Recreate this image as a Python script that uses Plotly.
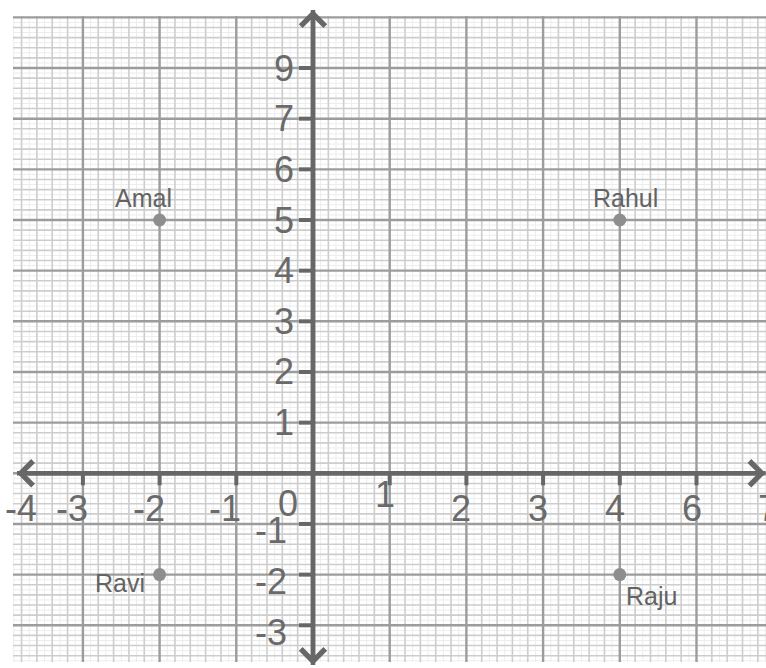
import numpy as np
import plotly.graph_objects as go

# Friends marked on the graph paper and their coordinates
names = ["Amal", "Rahul", "Ravi", "Raju"]
x_vals = [-2, 4, -2, 4]
y_vals = [5, 5, -2, -2]

# Tick positions along each axis and the labels printed beside them
x_ticks = [-4, -3, -2, -1, 0, 1, 2, 3, 4, 5, 6]
x_tick_text = ["-4", "-3", "-2", "-1", "0", "1", "2", "3", "4", "6", "7"]
y_ticks = [-3, -2, -1, 1, 2, 3, 4, 5, 6, 7, 8]
y_tick_text = ["-3", "-2", "-1", "1", "2", "3", "4", "5", "6", "7", "9"]

# ---- page geometry (pixels) ----
W, H = 766, 668
ORIGIN = (313.0, 473.3)          # pixel position of (0, 0)
UNIT = (76.7, 50.66)             # pixels per unit along x and y
PAPER_INSET = dict(l=13, t=16, r=0, b=6)


def px_to_x(px):
    return (px - ORIGIN[0]) / UNIT[0]


def px_to_y(py):
    return (ORIGIN[1] - py) / UNIT[1]


x_range = [px_to_x(0), px_to_x(W)]
y_range = [px_to_y(H), px_to_y(0)]
paper_x = (px_to_x(PAPER_INSET["l"]), px_to_x(W - PAPER_INSET["r"]))
paper_y = (px_to_y(H - PAPER_INSET["b"]), px_to_y(PAPER_INSET["t"]))

# axis extents (arrow tips)
axis_x = (px_to_x(17), px_to_x(765.5))
axis_y = (px_to_y(665), px_to_y(10))

# ---- styles ----
AXIS_COLOR = "#676767"
AXIS_WIDTH = 4.5
TEXT_COLOR = "#6a6a6a"
FONT = "Liberation Sans, Arial, sans-serif"
GRID_STYLE = {
    "faint": dict(color="#ededed", width=1),
    "minor": dict(color="#cdcdcd", width=1.6),
    "major": dict(color="#9c9c9c", width=2.4),
}
X_LABEL_SHIFT = (7, -35)         # right edge offset, vertical offset
Y_LABEL_SHIFT = (-17, 0)
LABEL_NUDGE = {"-4": (26, 0), "0": (-20, 5), "1": (0, 14)}
Y_NEG_NUDGE = (-7, -7)
POINT_LABEL_SHIFT = {"Amal": (-16, 22), "Rahul": (6, 22), "Ravi": (-40, -8), "Raju": (32, -21)}


def grid_kind(k):
    if k % 10 == 0:
        return "major"
    if k % 2 == 0:
        return "minor"
    return "faint"


def grid_lines(kind):
    xs, ys = [], []
    for k in range(int(np.ceil(paper_x[0] * 10)), int(np.floor(paper_x[1] * 10)) + 1):
        if grid_kind(k) == kind:
            xs += [k / 10, k / 10, None]
            ys += [paper_y[0], paper_y[1], None]
    for k in range(int(np.ceil(paper_y[0] * 10)), int(np.floor(paper_y[1] * 10)) + 1):
        if grid_kind(k) == kind:
            xs += [paper_x[0], paper_x[1], None]
            ys += [k / 10, k / 10, None]
    return xs, ys


fig = go.Figure()

# graph paper
for kind in ["faint", "minor", "major"]:
    gx, gy = grid_lines(kind)
    fig.add_trace(go.Scatter(x=gx, y=gy, mode="lines", line=GRID_STYLE[kind],
                             hoverinfo="skip", showlegend=False))

# axes
fig.add_trace(go.Scatter(
    x=[axis_x[0], axis_x[1], None, 0, 0],
    y=[0, 0, None, axis_y[0], axis_y[1]],
    mode="lines", line=dict(color=AXIS_COLOR, width=AXIS_WIDTH),
    hoverinfo="skip", showlegend=False))

# tick stubs
stub_x, stub_y = [], []
for t in x_ticks:
    if t != 0 and paper_x[0] < t < paper_x[1]:
        stub_x += [t, t, None]
        stub_y += [0, px_to_y(ORIGIN[1] + 12), None]
for t in y_ticks:
    if paper_y[0] < t < paper_y[1]:
        stub_x += [0, px_to_x(ORIGIN[0] - 14), None]
        stub_y += [t, t, None]
fig.add_trace(go.Scatter(x=stub_x, y=stub_y, mode="lines",
                         line=dict(color=AXIS_COLOR, width=4),
                         hoverinfo="skip", showlegend=False))

# plotted points
fig.add_trace(go.Scatter(x=x_vals, y=y_vals, mode="markers",
                         marker=dict(size=13, color="#8e8e8e"),
                         text=names, hoverinfo="text", showlegend=False))

annotations = []

# arrow heads at both ends of each axis
for tx, ty in [(axis_x[0], 0), (axis_x[1], 0), (0, axis_y[0]), (0, axis_y[1])]:
    annotations.append(dict(
        x=tx, y=ty, xref="x", yref="y", ax=0, ay=0, axref="x", ayref="y",
        text="", showarrow=True, arrowhead=4, arrowsize=1.05,
        arrowwidth=AXIS_WIDTH, arrowcolor=AXIS_COLOR))

# x tick labels
for t, label in zip(x_ticks, x_tick_text):
    nx, ny = LABEL_NUDGE.get(label, (0, 0))
    annotations.append(dict(
        x=(t - x_range[0]) / (x_range[1] - x_range[0]), y=0, xref="paper", yref="y",
        text=label, showarrow=False, xanchor="right", yanchor="middle",
        xshift=X_LABEL_SHIFT[0] + nx, yshift=X_LABEL_SHIFT[1] + ny,
        font=dict(family=FONT, size=36, color=TEXT_COLOR)))

# y tick labels
for t, label in zip(y_ticks, y_tick_text):
    nx, ny = Y_NEG_NUDGE if t < 0 else (0, 0)
    annotations.append(dict(
        x=0, y=t, xref="x", yref="y",
        text=label, showarrow=False, xanchor="right", yanchor="middle",
        xshift=Y_LABEL_SHIFT[0] + nx, yshift=Y_LABEL_SHIFT[1] + ny,
        font=dict(family=FONT, size=36, color=TEXT_COLOR)))

# point names
for name, px_, py_ in zip(names, x_vals, y_vals):
    sx, sy = POINT_LABEL_SHIFT[name]
    annotations.append(dict(
        x=px_, y=py_, xref="x", yref="y", text=name, showarrow=False,
        xanchor="center", yanchor="middle", xshift=sx, yshift=sy,
        font=dict(family=FONT, size=25, color="#636363")))

fig.update_layout(
    width=W, height=H,
    margin=dict(l=0, r=0, t=0, b=0),
    paper_bgcolor="white", plot_bgcolor="white",
    xaxis=dict(range=x_range, visible=False, fixedrange=True),
    yaxis=dict(range=y_range, visible=False, fixedrange=True),
    annotations=annotations,
    showlegend=False,
)

fig.write_html("out.html")
